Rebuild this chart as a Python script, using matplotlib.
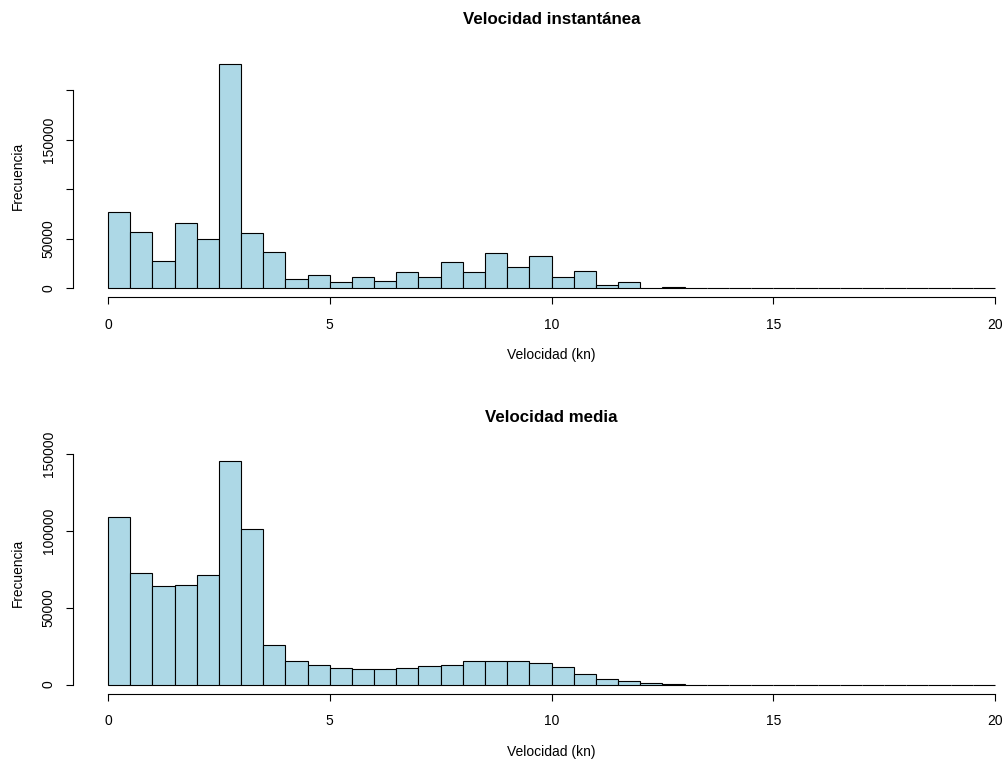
import numpy as np
import matplotlib
matplotlib.use("Agg")
import matplotlib.pyplot as plt

plt.rcParams['font.family'] = ['Liberation Sans', 'DejaVu Sans']

bin_width = 0.5
bin_edges = np.arange(0, 20.0001, bin_width)

# counts per 0.5 kn bin (0..20)
inst_counts = [76600, 57000, 27300, 66200, 49600, 226400, 55700, 36100,
               8800, 13200, 6500, 11100, 7500, 15900, 11100, 26700,
               16600, 35100, 21000, 32400, 11100, 17600, 3400, 6500,
               0, 1000] + [0] * 14
media_counts = [109200, 72600, 64100, 64800, 71500, 145400, 100800, 26000,
                15600, 12400, 10800, 10100, 10100, 10800, 12100, 12700,
                15000, 15600, 15600, 13700, 11200, 6900, 3900, 2600,
                1000, 400] + [0] * 14

titles = ["Velocidad instantánea", "Velocidad media"]
xlabel = "Velocidad (kn)"
ylabel = "Frecuencia"
x_ticks = [0, 5, 10, 15, 20]
y_ticks_top = [0, 50000, 100000, 150000, 200000]
y_labels_top = ["0", "50000", "", "150000", ""]
y_ticks_bot = [0, 50000, 100000, 150000]
y_labels_bot = ["0", "50000", "100000", "150000"]

W, H = 1005, 760
fig = plt.figure(figsize=(W / 100, H / 100), dpi=100)

def px_axes(left, top, right, bottom):
    return fig.add_axes([left / W, 1 - bottom / H, (right - left) / W, (bottom - top) / H])

panels = [
    (inst_counts, titles[0], y_ticks_top, y_labels_top, 297.0, 20, 355),
    (media_counts, titles[1], y_ticks_bot, y_labels_bot, 693.5, 417, 752),
]

for counts, title, yt, yl, ybot, ytitle, yxlab in panels:
    ax = px_axes(72.5, ybot - 241.6, 1030.5, ybot)
    counts = np.array(counts)
    ax.bar(bin_edges[:-1], counts, width=bin_width, align='edge',
           color='#ADD8E6', edgecolor='black', linewidth=0.8)
    ymax = counts.max()
    ax.set_xlim(-0.8, 20.8)
    ax.set_ylim(-0.04 * ymax, 1.04 * ymax)
    for s in ['top', 'right']:
        ax.spines[s].set_visible(False)
    ax.spines['left'].set_bounds(yt[0], yt[-1])
    ax.spines['bottom'].set_bounds(0, 20)
    ax.spines['left'].set_linewidth(0.8)
    ax.spines['bottom'].set_linewidth(0.8)
    ax.set_xticks(x_ticks)
    ax.set_xticklabels([str(t) for t in x_ticks])
    ax.set_yticks(yt)
    ax.set_yticklabels(yl, rotation=90, va='center')
    ax.tick_params(axis='both', direction='out', length=5, width=0.8,
                   labelsize=10, colors='black')
    ax.tick_params(axis='x', pad=10)
    ax.tick_params(axis='y', pad=7)
    fig.text(551.5 / W, 1 - ytitle / H, title, ha='center', va='center',
             fontsize=12.2, fontweight='bold')
    fig.text(551.5 / W, 1 - yxlab / H, xlabel, ha='center', va='center', fontsize=10)
    fig.text(18 / W, 1 - (ybot - 120.8) / H, ylabel, ha='center', va='center',
             fontsize=9.9, rotation=90)

fig.savefig("out.png", dpi=100)
